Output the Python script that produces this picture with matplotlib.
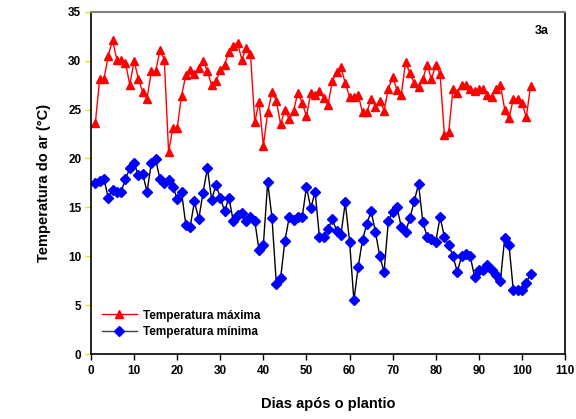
import matplotlib
matplotlib.use("Agg")
import matplotlib.pyplot as plt
import numpy as np

plt.rcParams["font.family"] = ["Liberation Sans", "DejaVu Sans"]
plt.rcParams["font.weight"] = "bold"

# days after planting
dias = np.arange(1, 103)

temp_max = [
    23.6, 28.1, 28.1, 30.5, 32.1, 30.1, 30.1, 29.8, 27.5, 30.0,
    28.1, 26.8, 26.1, 28.9, 28.9, 31.1, 30.1, 20.7, 23.1, 23.1,
    26.4, 28.5, 29.0, 28.6, 29.2, 30.0, 28.9, 27.5, 27.9, 29.0,
    29.6, 30.9, 31.5, 31.8, 30.1, 31.3, 30.7, 23.7, 25.8, 21.3,
    24.7, 26.8, 25.9, 23.5, 25.0, 24.0, 24.9, 26.7, 25.7, 24.3,
    26.7, 26.5, 26.9, 26.2, 25.5, 27.9, 28.8, 29.3, 27.7, 26.3,
    26.3, 26.5, 24.7, 24.7, 26.1, 25.3, 25.9, 24.9, 27.1, 28.3,
    27.0, 26.5, 29.9, 28.7, 27.7, 27.3, 28.1, 29.6, 28.1, 29.6,
    28.6, 22.4, 22.7, 27.1, 26.7, 27.5, 27.5, 27.1, 26.9, 27.1,
    27.1, 26.5, 26.3, 27.1, 27.5, 25.0, 24.1, 26.1, 26.1, 25.7,
    24.2, 27.4,
]

temp_min = [
    17.5, 17.7, 17.9, 16.0, 16.8, 16.6, 16.6, 17.9, 19.0, 19.5,
    18.3, 18.4, 16.6, 19.5, 19.9, 17.9, 17.5, 17.8, 17.1, 15.9,
    16.6, 13.2, 13.0, 15.6, 13.8, 16.5, 19.0, 15.8, 17.3, 16.0,
    14.6, 16.0, 13.6, 14.2, 14.4, 13.6, 14.0, 13.6, 10.6, 11.2,
    17.6, 13.9, 7.2, 7.8, 11.6, 14.0, 13.7, 14.0, 14.0, 17.1,
    14.9, 16.6, 12.0, 12.0, 12.8, 13.8, 12.6, 12.2, 15.5, 11.5,
    5.5, 8.9, 11.7, 13.3, 14.6, 12.5, 10.0, 8.4, 13.6, 14.5,
    15.0, 13.0, 12.5, 13.9, 15.6, 17.4, 13.5, 12.0, 11.8, 11.5,
    14.0, 12.0, 11.1, 10.0, 8.4, 10.0, 10.2, 10.0, 7.9, 8.6,
    8.6, 9.1, 8.6, 8.1, 7.5, 11.9, 11.1, 6.5, 6.5, 6.5,
    7.3, 8.2,
]

x_ticks = np.arange(0, 111, 10)
y_ticks = np.arange(0, 36, 5)

fig = plt.figure(figsize=(5.76, 4.19), dpi=100)
ax = fig.add_axes([0.158, 0.155, 0.823, 0.817])

ax.plot(dias, temp_max, color="red", lw=1.0, marker="^", ms=6,
        mfc="red", mec="red", label="Temperatura máxima")
ax.plot(dias, temp_min, color="black", lw=1.0, marker="D", ms=5,
        mfc="blue", mec="blue", label="Temperatura mínima")

ax.set_xlim(0, 110)
ax.set_ylim(0, 35)
ax.set_xticks(x_ticks)
ax.set_yticks(y_ticks)
ax.tick_params(axis="x", direction="out", length=4, width=1, colors="black",
               labelsize=8.5, pad=4)
ax.tick_params(axis="y", direction="out", length=4, width=1, color="#e6e600",
               labelcolor="black", labelsize=8.5, pad=3)
for lab in ax.get_xticklabels() + ax.get_yticklabels():
    lab.set_fontweight("bold")

ax.spines["top"].set_color("#808080")
ax.spines["top"].set_linewidth(1.5)
for side in ("left", "bottom", "right"):
    ax.spines[side].set_color("black")
    ax.spines[side].set_linewidth(1.2)

ax.set_xlabel("Dias após o plantio", fontsize=10.5, fontweight="bold", labelpad=14)
ax.set_ylabel("Temperatura do ar (°C)", fontsize=10.5, fontweight="bold", labelpad=12)

ax.text(0.965, 0.945, "3a", transform=ax.transAxes, ha="right", va="center",
        fontsize=9, fontweight="bold")

leg = ax.legend(loc="lower left", bbox_to_anchor=(0.0, 0.015), frameon=False,
                numpoints=1, handlelength=3.0, handletextpad=0.5,
                labelspacing=0.4, prop={"size": 8.5, "weight": "bold"})
leg.legend_handles[1].set_color("#404040")
leg.legend_handles[1].set_markerfacecolor("blue")
leg.legend_handles[1].set_markeredgecolor("blue")

fig.savefig("out.png", dpi=100)
